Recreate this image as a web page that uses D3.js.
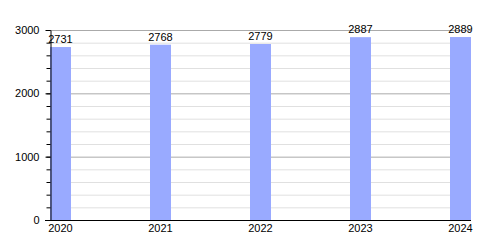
<!DOCTYPE html>
<html>
<head>
<meta charset="utf-8">
<script src="https://cdn.jsdelivr.net/npm/d3@7"></script>
<style>
  body { margin: 0; background: #fff; }
  svg { display: block; font-family: "Liberation Sans", Arial, sans-serif; }
  .axis text { fill: #000; }
</style>
</head>
<body>
<svg id="chart" width="500" height="250"></svg>
<script>
// data
const years = ["2020", "2021", "2022", "2023", "2024"];
const values = [2731, 2768, 2779, 2887, 2889];
const yTicks = [0, 1000, 2000, 3000];
const minorTicks = d3.range(0, 3001, 200);

let margin = { top: 30, left: 50, bottom: 30 },
  plotRight = 471,
  height = 250 - margin.bottom;

let svg = d3.select("#chart");

// x: one slot per year, bar starts at the slot
let xScale = d3.scalePoint()
  .domain(years)
  .range([margin.left, 450]);
let barWidth = 21;

let yScale = d3.scaleLinear()
  .domain([0, 3000])
  .range([height, margin.top]);

// minor grid
svg.append("g")
  .selectAll("line")
  .data(minorTicks.filter(d => d % 1000 != 0))
  .enter().append("line")
  .attr("x1", margin.left).attr("x2", plotRight)
  .attr("y1", d => yScale(d) + 0.5).attr("y2", d => yScale(d) + 0.5)
  .attr("stroke", "#e0e0e0");

// major grid
svg.append("g")
  .selectAll("line")
  .data(yTicks.filter(d => d > 0))
  .enter().append("line")
  .attr("x1", margin.left).attr("x2", plotRight)
  .attr("y1", d => yScale(d) + 0.5).attr("y2", d => yScale(d) + 0.5)
  .attr("stroke", "#aaaaaa");

// bars
svg.append("g")
  .selectAll("rect")
  .data(values)
  .enter().append("rect")
  .attr("x", (d, i) => xScale(years[i]))
  .attr("y", d => yScale(d))
  .attr("width", barWidth)
  .attr("height", d => height - yScale(d))
  .attr("fill", "#99aaff");

// value labels
svg.append("g")
  .selectAll("text")
  .data(values)
  .enter().append("text")
  .attr("x", (d, i) => xScale(years[i]) + barWidth / 2)
  .attr("y", d => yScale(d) - 4)
  .attr("text-anchor", "middle")
  .attr("font-size", 11)
  .text(d => d);

// y axis, minor ticks first then the labelled ones
svg.append("g")
  .attr("transform", "translate(" + (margin.left + 0.5) + ",0)")
  .call(d3.axisLeft(yScale).tickValues(minorTicks).tickSize(4).tickFormat(""))
  .call(g => g.select(".domain").remove());

let yAxis = svg.append("g")
  .attr("class", "axis")
  .attr("transform", "translate(" + (margin.left + 0.5) + ",0)")
  .call(d3.axisLeft(yScale).tickValues(yTicks).tickFormat(d3.format("d"))
    .tickSize(5).tickPadding(6).tickSizeOuter(0));
yAxis.attr("font-family", null).attr("font-size", 11);

// x axis line and year labels
svg.append("line")
  .attr("x1", 45).attr("x2", plotRight)
  .attr("y1", height + 0.5).attr("y2", height + 0.5)
  .attr("stroke", "#000");

svg.append("g")
  .selectAll("text")
  .data(years)
  .enter().append("text")
  .attr("x", d => xScale(d) + barWidth / 2)
  .attr("y", height + 12)
  .attr("text-anchor", "middle")
  .attr("font-size", 11)
  .text(d => d);
</script>
</body>
</html>
